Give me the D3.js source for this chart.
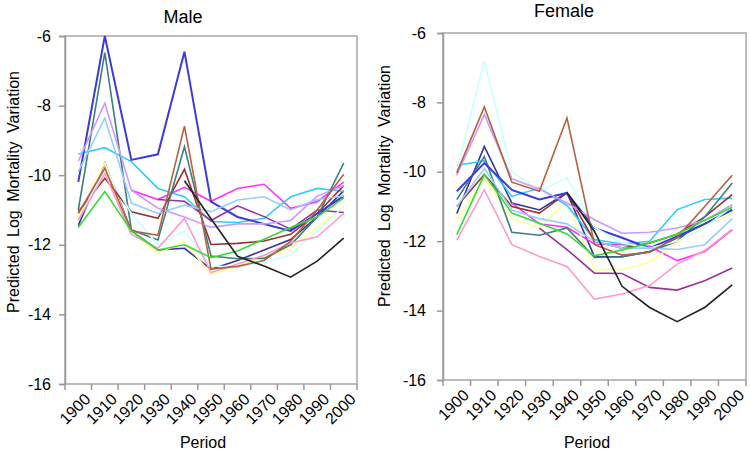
<!DOCTYPE html>
<html>
<head>
<meta charset="utf-8">
<script src="https://d3js.org/d3.v7.min.js"></script>
<style>
  html, body { margin: 0; padding: 0; background: #fff; }
  svg { display: block; font-family: "Liberation Sans", Arial, sans-serif; }
</style>
</head>
<body>
<svg id="chart" width="750" height="453"></svg>
<script>
// ---------------- DATA ----------------
const periods = ["1900","1910","1920","1930","1940","1950","1960","1970","1980","1990","2000"];
const yTicks = [-6, -8, -10, -12, -14, -16];
const seriesNames = ["navy","magenta","yellow","cyan","purple","maroon","teal","blue","lightcyan","lightblue","pink","lavender","brown","green","black"];
const seriesColors = ["#333399","#ff33ff","#ffff99","#33ccff","#993399","#993333","#3a8080","#3b3bdc","#ccffff","#99ccff","#ff99cc","#cc99ff","#b5613f","#33dd33","#222222"];

// Male panel
const maleNavy      = [-11.45, -9.65, -11.6, -12.15, -12.1, -12.7, -12.45, -12.15, -11.85, -11.2, -10.45];
const maleMagenta   = [null, null, -10.43, -10.7, -10.35, -10.75, -10.38, -10.26, -10.95, -10.76, -10.2];
const maleYellow    = [-11.2, -9.65, -11.65, -12.25, -11.9, -12.85, -12.6, -12.35, -12.1, -11.5, -10.9];
const maleCyan      = [-9.39, -9.21, -9.61, -10.38, -10.62, -11.33, -11.36, -11.24, -10.62, -10.38, -10.47];
const malePurple    = [null, null, null, -10.7, -10.75, -11.3, -10.88, -11.19, -11.55, -11.0, -11.07];
const maleMaroon    = [-11.05, -10.09, -11.05, -11.24, -9.83, -11.99, -11.96, -11.89, -11.7, -11.1, -10.3];
const maleTeal      = [-11.0, -6.48, -11.57, -11.86, -9.18, -12.32, -12.4, -12.39, -12.0, -11.2, -9.65];
const maleBlue      = [-10.19, -6.0, -9.56, -9.4, -6.45, -10.76, -11.2, -11.4, -11.6, -11.1, -10.6];
const maleLightCyan = [-11.3, -9.8, -11.1, -12.0, -11.6, -12.6, -12.65, -12.5, -12.3, -11.6, -10.9];
const maleLightBlue = [-9.9, -8.36, -10.8, -11.1, -10.86, -11.05, -10.71, -10.62, -11.0, -10.7, -10.6];
const malePink      = [-11.3, -9.95, -11.7, -12.1, -11.24, -12.8, -12.55, -12.3, -11.95, -11.77, -11.1];
const maleLavender  = [-9.6, -7.93, -10.43, -10.95, -11.2, -11.5, -11.4, -11.4, -11.3, -10.6, -10.3];
const maleBrown     = [-11.1, -9.8, -11.6, -11.73, -8.59, -12.7, -12.62, -12.45, -11.9, -11.0, -9.97];
const maleGreen     = [-11.5, -10.47, -11.6, -12.15, -12.0, -12.37, -12.18, -11.84, -11.5, -11.2, -10.65];
const maleBlack     = [null, null, null, null, -10.16, -11.25, -12.33, -12.61, -12.93, -12.47, -11.81];

// Female panel
const femNavy       = [-11.2, -9.27, -10.9, -11.1, -10.6, -12.45, -12.45, -12.3, -11.9, -11.5, -11.1];
const femMagenta    = [null, null, -10.9, -11.5, -11.6, -12.08, -12.1, -12.15, -12.56, -12.3, -11.67];
const femYellow     = [-11.4, -10.2, -11.35, -11.6, -10.85, -12.82, -12.82, -12.6, -12.05, -11.55, -11.19];
const femCyan       = [-9.82, -9.68, -10.71, -10.47, -10.97, -11.95, -12.08, -12.0, -11.09, -10.8, -10.76];
const femPurple     = [null, null, null, -11.62, -12.24, -12.92, -12.93, -13.33, -13.41, -13.14, -12.77];
const femMaroon     = [-11.0, -10.08, -11.0, -11.19, -10.61, -12.0, -12.2, -12.05, -11.8, -11.3, -10.66];
const femTeal       = [-10.8, -9.56, -11.74, -11.83, -11.62, -12.47, -12.45, -12.3, -12.0, -11.3, -10.32];
const femBlue       = [-10.56, -9.75, -10.52, -10.8, -10.61, -11.62, -11.9, -12.2, -11.86, -11.5, -11.09];
const femLightCyan  = [-10.0, -6.8, -10.0, -10.55, -10.18, -11.6, -12.05, -12.2, -12.0, -11.6, -11.0];
const femLightBlue  = [-11.0, -9.9, -11.1, -11.35, -11.5, -12.0, -12.2, -12.2, -12.24, -12.1, -11.35];
const femPink       = [-11.96, -10.52, -12.1, -12.44, -12.73, -13.67, -13.52, -13.28, -12.66, -12.27, -11.65];
const femLavender   = [-10.1, -8.35, -10.2, -10.5, -10.9, -11.38, -11.77, -11.74, -11.62, -11.4, -10.95];
const femBrown      = [-10.03, -8.13, -10.3, -10.56, -8.45, -12.1, -12.4, -12.32, -11.89, -11.0, -10.1];
const femGreen      = [-11.81, -10.08, -11.19, -11.48, -11.79, -12.42, -12.25, -12.05, -11.8, -11.4, -11.02];
const femBlack      = [null, null, null, null, -10.6, -11.72, -13.3, -13.91, -14.32, -13.91, -13.26];

const maleSeries = [maleNavy, maleMagenta, maleYellow, maleCyan, malePurple, maleMaroon, maleTeal, maleBlue,
                    maleLightCyan, maleLightBlue, malePink, maleLavender, maleBrown, maleGreen, maleBlack];
const femSeries  = [femNavy, femMagenta, femYellow, femCyan, femPurple, femMaroon, femTeal, femBlue,
                    femLightCyan, femLightBlue, femPink, femLavender, femBrown, femGreen, femBlack];

// ---------------- DRAW ----------------
const svg = d3.select("#chart");

function panel(cfg) {
  const x = d3.scaleBand().domain(periods).range([cfg.left, cfg.right]).padding(0);
  const y = d3.scaleLinear().domain([-16, -6]).range([cfg.bottom, cfg.top]);
  const g = svg.append("g");

  // frame
  g.append("rect")
    .attr("x", cfg.left).attr("y", cfg.top)
    .attr("width", cfg.right - cfg.left).attr("height", cfg.bottom - cfg.top)
    .attr("fill", "none").attr("stroke", "#a6a6a6").attr("stroke-width", 1.5);

  // y axis
  const ya = g.append("g").attr("transform", `translate(${cfg.left},0)`)
    .call(d3.axisLeft(y).tickValues(yTicks).tickSize(6).tickPadding(cfg.yPad).tickFormat(d3.format("d")));
  ya.select(".domain").attr("stroke", "#999").attr("stroke-width", 1.5);
  ya.selectAll(".tick line").attr("stroke", "#999").attr("stroke-width", 1.5);
  ya.selectAll(".tick text").attr("font-size", 16).attr("fill", "#000")
    .style("font-family", "Liberation Sans, Arial, sans-serif")
    .text(d => d3.format("d")(d).replace("−", "-"));

  // x boundary ticks (band edges)
  const edges = periods.map(p => x(p)).concat([x(periods[periods.length - 1]) + x.bandwidth()]);
  g.selectAll("line.xt").data(edges).join("line")
    .attr("x1", d => d).attr("x2", d => d)
    .attr("y1", cfg.bottom).attr("y2", cfg.bottom + 6)
    .attr("stroke", "#999").attr("stroke-width", 1.5);

  // x labels
  g.selectAll("text.xl").data(periods).join("text")
    .attr("transform", d => `translate(${x(d) + x.bandwidth() / 2 + 5},${cfg.bottom + 8}) rotate(-45)`)
    .attr("text-anchor", "end").attr("dy", "0.72em")
    .attr("font-size", 16).attr("fill", "#000")
    .text(d => d);

  // lines
  const line = d3.line()
    .defined(d => d != null)
    .x((d, i) => x(periods[i]) + x.bandwidth() / 2)
    .y(d => y(d));
  g.selectAll("path.series").data(cfg.series).join("path")
    .attr("fill", "none")
    .attr("stroke", (d, i) => seriesColors[i])
    .attr("stroke-width", (d, i) => (seriesNames[i] === "blue" ? 2 : 1.6))
    .attr("stroke-linejoin", "miter")
    .attr("d", d => line(d));

  // titles
  g.append("text").attr("x", cfg.titleX).attr("y", cfg.titleY)
    .attr("text-anchor", "middle").attr("font-size", 18).text(cfg.title);
  g.append("text")
    .attr("transform", `translate(${cfg.yTitleX},${cfg.yTitleY}) rotate(-90)`)
    .attr("text-anchor", "middle").attr("dominant-baseline", "central")
    .attr("font-size", 16).attr("word-spacing", 4)
    .text("Predicted Log Mortality Variation");
  g.append("text").attr("x", cfg.periodX).attr("y", 448)
    .attr("text-anchor", "middle").attr("font-size", 16).text("Period");
}

panel({ left: 65, right: 357, top: 36, bottom: 384, series: maleSeries, title: "Male",
        titleX: 183, titleY: 23, yTitleX: 13, yTitleY: 192, periodX: 203, yPad: 8 });
panel({ left: 443, right: 746, top: 33, bottom: 380, series: femSeries, title: "Female",
        titleX: 564, titleY: 17, yTitleX: 384, yTitleY: 186, periodX: 587, yPad: 11 });
</script>
</body>
</html>
